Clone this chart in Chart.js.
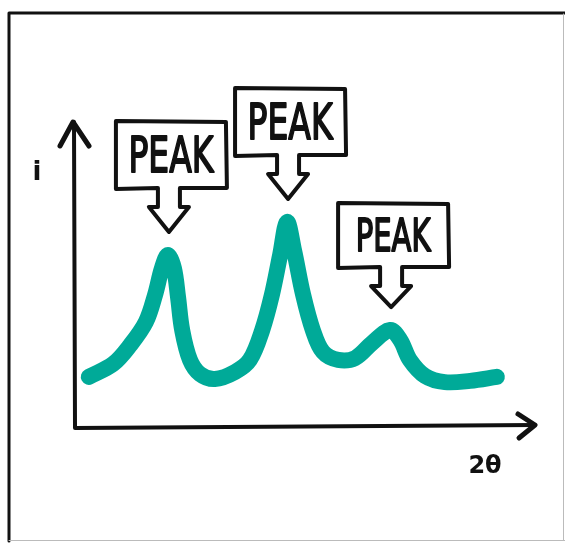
<!DOCTYPE html>
<html>
<head>
<meta charset="utf-8">
<script src="https://cdn.jsdelivr.net/npm/chart.js@4/dist/chart.umd.min.js"></script>
<style>
  html, body { margin: 0; padding: 0; background: #fff; }
  #wrap { position: relative; width: 565px; height: 543px; }
</style>
</head>
<body>
<div id="wrap"><canvas id="peaks" width="565" height="543"></canvas></div>
<script>
// 2theta position and intensity of the hand drawn trace
const twoTheta = [3.0, 8.3, 12.0, 15.4, 17.4, 18.9, 20.2, 21.5, 22.4, 23.3, 25.0, 27.2, 30.4, 34.8, 38.0, 40.7, 42.8, 44.6, 46.1, 47.6, 49.6, 51.7, 53.9, 57.2, 60.9, 64.6, 68.5, 70.7, 72.8, 76.1, 80.4, 85.9, 91.7]
const intensity = [16.6, 20.8, 26.9, 34.4, 43.2, 51.9, 56.2, 51.9, 42.5, 31.8, 22.1, 17.5, 15.9, 18.2, 22.1, 31.8, 43.2, 56.2, 66.9, 57.8, 43.2, 31.8, 24.7, 22.1, 22.7, 27.6, 31.8, 28.6, 22.1, 16.9, 14.9, 15.3, 16.6]
const peakIndex = [6, 18, 26]
const peakLabels = ['PEAK', 'PEAK', 'PEAK']
const xLabel = '2θ'
const yLabel = 'i'

const points = twoTheta.map((x, i) => ({ x: x, y: intensity[i] }))

const sketchPlugin = {
  id: 'sketch',
  afterDraw (chart) {
    const ctx = chart.ctx
    const area = chart.chartArea
    const xs = chart.scales.x
    const ys = chart.scales.y
    ctx.save()
    ctx.strokeStyle = '#111'
    ctx.fillStyle = '#111'
    ctx.lineCap = 'round'
    ctx.lineJoin = 'round'

    // outer frame
    ctx.lineWidth = 3
    ctx.beginPath()
    ctx.moveTo(9, 541)
    ctx.lineTo(9, 13)
    ctx.lineTo(566, 13)
    ctx.stroke()
    ctx.strokeStyle = '#bbb'
    ctx.lineWidth = 1
    ctx.beginPath()
    ctx.moveTo(9, 540.5)
    ctx.lineTo(565, 540.5)
    ctx.moveTo(563.5, 14)
    ctx.lineTo(563.5, 540)
    ctx.stroke()

    // axes with arrows
    ctx.strokeStyle = '#111'
    ctx.lineWidth = 4
    ctx.beginPath()
    ctx.moveTo(area.left - 1, area.top + 2)
    ctx.lineTo(area.left, area.bottom)
    ctx.lineTo(area.right, area.bottom - 3)
    ctx.stroke()
    ctx.lineWidth = 5
    ctx.beginPath()
    ctx.moveTo(area.left - 15, area.top + 26)
    ctx.lineTo(area.left - 2, area.top + 2)
    ctx.lineTo(area.left + 14, area.top + 26)
    ctx.moveTo(area.right - 17, area.bottom - 14)
    ctx.lineTo(area.right, area.bottom - 3)
    ctx.lineTo(area.right - 16, area.bottom + 10)
    ctx.stroke()

    // axis labels
    ctx.textAlign = 'center'
    ctx.textBaseline = 'alphabetic'
    ctx.font = 'bold 26px "DejaVu Sans"'
    ctx.fillText(yLabel, area.left - 38, area.top + 60)
    ctx.font = 'bold 24px "DejaVu Sans"'
    ctx.fillText(xLabel, area.right - 50, area.bottom + 45)

    // callouts pointing at the peaks
    const sizes = [50, 50, 44]
    peakIndex.forEach((idx, k) => {
      const tx = xs.getPixelForValue(twoTheta[idx]) + 1
      const ty = ys.getPixelForValue(intensity[idx]) - 23
      const L = -53, R = 57, T = sizes[k] === 50 ? -111 : -104, B = sizes[k] === 50 ? -44 : -40
      const hy = B + 19
      ctx.save()
      ctx.translate(tx, ty)
      ctx.lineWidth = 4
      ctx.fillStyle = '#fff'
      ctx.beginPath()
      ctx.moveTo(L, T)
      ctx.lineTo(R, T + 1)
      ctx.lineTo(R + 1, B)
      ctx.lineTo(11, B)
      ctx.lineTo(11, hy)
      ctx.lineTo(20, hy)
      ctx.lineTo(0, 0)
      ctx.lineTo(-20, hy)
      ctx.lineTo(-11, hy)
      ctx.lineTo(-11, B)
      ctx.lineTo(L, B + 1)
      ctx.closePath()
      ctx.fill()
      ctx.stroke()
      ctx.fillStyle = '#111'
      ctx.font = sizes[k] + 'px "DejaVu Sans"'
      ctx.translate((L + R) / 2, B - 16)
      ctx.scale(0.66, 1)
      ctx.lineWidth = 2
      ctx.fillText(peakLabels[k], 0, 0)
      ctx.strokeText(peakLabels[k], 0, 0)
      ctx.restore()
    })
    ctx.restore()
  }
}

const chart = new Chart(
  document.getElementById('peaks').getContext('2d'),
  {
    type: 'line',
    data: {
      datasets: [
        {
          label: 'trace',
          data: points,
          borderColor: '#00aa98',
          borderWidth: 16,
          borderCapStyle: 'round',
          borderJoinStyle: 'round',
          tension: 0.35,
          pointRadius: 0,
          fill: false
        }
      ]
    },
    options: {
      responsive: false,
      animation: false,
      layout: { padding: { left: 75, right: 30, top: 120, bottom: 115 } },
      scales: {
        x: { type: 'linear', min: 0, max: 100, display: false },
        y: { min: 0, max: 100, display: false }
      },
      plugins: {
        legend: { display: false },
        tooltip: { enabled: false }
      }
    },
    plugins: [sketchPlugin]
  })
</script>
</body>
</html>
